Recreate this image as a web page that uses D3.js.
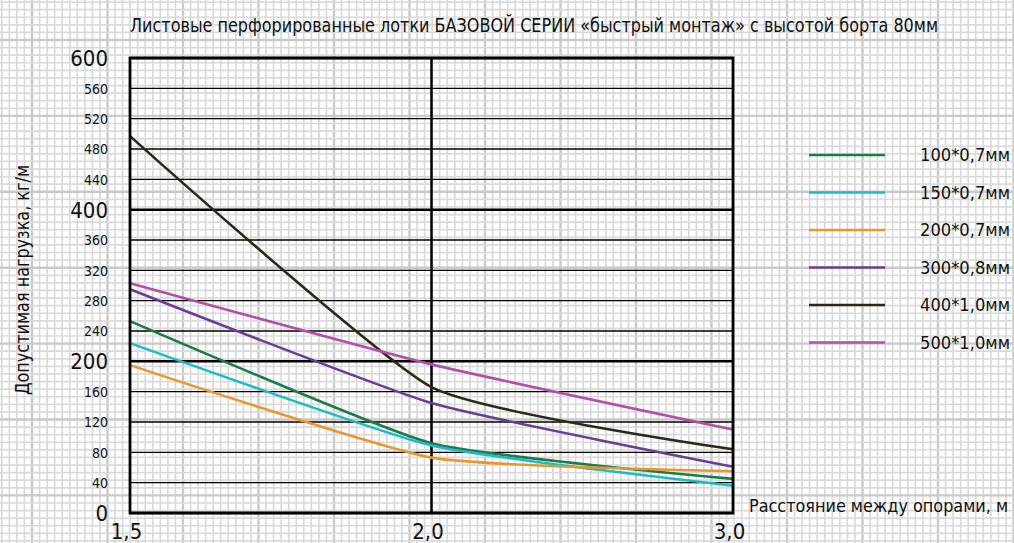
<!DOCTYPE html>
<html>
<head>
<meta charset="utf-8">
<script src="https://cdn.jsdelivr.net/npm/d3@7"></script>
<style>
  body { margin: 0; background: #fff; }
  svg text { font-family: "DejaVu Sans Condensed", "DejaVu Sans", sans-serif; font-stretch: condensed; fill: #111; }
</style>
</head>
<body>
<div id="wrapper"></div>
<script>
// Data
var xLabels = ["1,5", "2,0", "3,0"];
var yTicks = [0, 40, 80, 120, 160, 200, 240, 280, 320, 360, 400, 440, 480, 520, 560, 600];
var yMajor = [0, 200, 400, 600];

var seriesNames = ["100*0,7мм", "150*0,7мм", "200*0,7мм", "300*0,8мм", "400*1,0мм", "500*1,0мм"];
var s100 = [253, 92, 45];
var s150 = [224, 89, 36];
var s200 = [195, 73, 55];
var s300 = [295, 145, 61];
var s400 = [497, 166, 84];
var s500 = [303, 196, 110];
var seriesColors = ["#1b7c48", "#1bbcca", "#ea972e", "#6a3e96", "#2e2718", "#b250a8"];

var allSeries = [s100, s150, s200, s300, s400, s500];

var width = 1014, height = 543;
var margin = { top: 58, right: 281, bottom: 30, left: 130 };

var svg = d3.select("#wrapper")
  .append("svg")
  .attr("width", width)
  .attr("height", height);

// Graph paper background
var paper = svg.append("g");
var sx = 7.55, sy = 7.59, x0 = 32, y0 = 40;
for (var k = -5; k * sx + x0 < width; k++) {
  var px = x0 + k * sx;
  if (px < 0) continue;
  var major = (k % 10 === 0);
  paper.append("line")
    .attr("x1", px).attr("x2", px).attr("y1", 0).attr("y2", height)
    .attr("stroke", major ? "#c9c9c9" : "#dadada")
    .attr("stroke-width", major ? 2.4 : 1.7);
}
for (var k = -6; k * sy + y0 < height; k++) {
  var py = y0 + k * sy;
  if (py < 0) continue;
  var major = (k % 10 === 0);
  paper.append("line")
    .attr("y1", py).attr("y2", py).attr("x1", 0).attr("x2", width)
    .attr("stroke", major ? "#c9c9c9" : "#dadada")
    .attr("stroke-width", major ? 2.4 : 1.7);
}

// Scales
var x = d3.scalePoint()
  .domain(xLabels)
  .range([margin.left, width - margin.right]);

var y = d3.scaleLinear()
  .domain([0, 600])
  .range([height - margin.bottom, margin.top]);

// Horizontal grid lines
svg.append("g")
  .selectAll("line")
  .data(yTicks)
  .enter()
  .append("line")
  .attr("x1", x.range()[0])
  .attr("x2", x.range()[1])
  .attr("y1", d => y(d))
  .attr("y2", d => y(d))
  .attr("stroke", "#000")
  .attr("stroke-width", d => yMajor.indexOf(d) >= 0 ? 2.5 : 1.3);

// Vertical line at 2,0
svg.append("line")
  .attr("x1", x("2,0")).attr("x2", x("2,0"))
  .attr("y1", y(0)).attr("y2", y(600))
  .attr("stroke", "#000")
  .attr("stroke-width", 2.5);

// Lines
var line = d3.line()
  .x((d, i) => x(xLabels[i]))
  .y(d => y(d))
  .curve(d3.curveCardinal.tension(0.5));

svg.append("g")
  .selectAll("path")
  .data(allSeries)
  .enter()
  .append("path")
  .attr("d", line)
  .attr("fill", "none")
  .attr("stroke", (d, i) => seriesColors[i])
  .attr("stroke-width", 2.6);

// Frame
svg.append("rect")
  .attr("x", x.range()[0])
  .attr("y", y(600))
  .attr("width", x.range()[1] - x.range()[0])
  .attr("height", y(0) - y(600))
  .attr("fill", "none")
  .attr("stroke", "#000")
  .attr("stroke-width", 2.8);

// Y axis labels
var yAxis = svg.append("g")
  .attr("transform", "translate(" + margin.left + ",0)")
  .call(d3.axisLeft(y).tickValues(yTicks).tickSize(0).tickPadding(22));
yAxis.select(".domain").remove();
yAxis.selectAll("text")
  .style("font-size", d => yMajor.indexOf(d) >= 0 ? "22px" : "14px")
  .attr("fill", "#111")
  .attr("dy", "0.34em");

// X axis labels
var xAxis = svg.append("g")
  .attr("transform", "translate(0," + (height - margin.bottom) + ")")
  .call(d3.axisBottom(x).tickSize(0).tickPadding(10));
xAxis.select(".domain").remove();
xAxis.selectAll("text")
  .style("font-size", "22px")
  .attr("fill", "#111")
  .attr("dx", "-4");

// Title
svg.append("text")
  .attr("x", 130)
  .attr("y", 32)
  .attr("textLength", 808)
  .attr("lengthAdjust", "spacingAndGlyphs")
  .style("font-size", "19px")
  .text("Листовые перфорированные лотки БАЗОВОЙ СЕРИИ «быстрый монтаж» с высотой борта 80мм");

// Axis titles
svg.append("text")
  .attr("transform", "translate(29,280) rotate(-90)")
  .attr("text-anchor", "middle")
  .attr("textLength", 230)
  .attr("lengthAdjust", "spacingAndGlyphs")
  .style("font-size", "19px")
  .text("Допустимая нагрузка, кг/м");

svg.append("text")
  .attr("x", 749)
  .attr("y", 512)
  .attr("textLength", 259)
  .attr("lengthAdjust", "spacingAndGlyphs")
  .style("font-size", "17px")
  .text("Расстояние между опорами, м");

// Legend
var legend = svg.append("g")
  .selectAll("g")
  .data(seriesNames)
  .enter()
  .append("g")
  .attr("transform", (d, i) => "translate(809," + (155 + i * 37.5) + ")");

legend.append("line")
  .attr("x1", 0).attr("x2", 76)
  .attr("stroke", (d, i) => seriesColors[i])
  .attr("stroke-width", 2.6);

legend.append("text")
  .attr("x", 111)
  .attr("dy", "0.36em")
  .attr("textLength", 90)
  .attr("lengthAdjust", "spacingAndGlyphs")
  .style("font-size", "17px")
  .text(d => d);
</script>
</body>
</html>
